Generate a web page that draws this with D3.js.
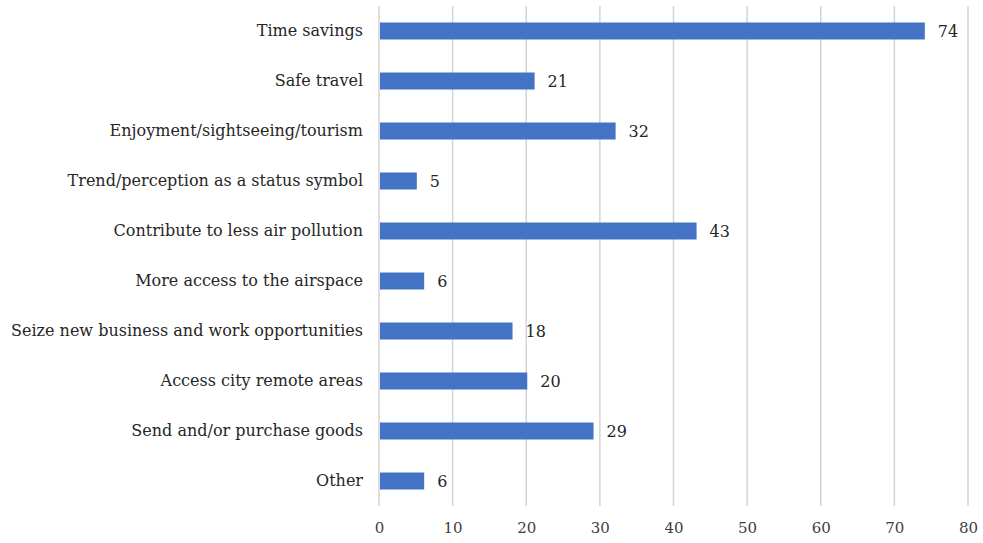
<!DOCTYPE html>
<html>
<head>
<meta charset="utf-8">
<script src="https://cdn.jsdelivr.net/npm/d3@7"></script>
<style>
  html, body { margin: 0; padding: 0; background: #fff; }
  svg { display: block; }
  text { font-family: "DejaVu Serif", "Liberation Serif", serif; }
</style>
</head>
<body>
<svg id="chart" width="983" height="543"></svg>
<script>
// Motivations for using air mobility, number of respondents
const categories = [
  "Time savings",
  "Safe travel",
  "Enjoyment/sightseeing/tourism",
  "Trend/perception as a status symbol",
  "Contribute to less air pollution",
  "More access to the airspace",
  "Seize new business and work opportunities",
  "Access city remote areas",
  "Send and/or purchase goods",
  "Other"
];
const values = [74, 21, 32, 5, 43, 6, 18, 20, 29, 6];
const tickValues = [0, 10, 20, 30, 40, 50, 60, 70, 80];

const svg = d3.select("#chart");
const margin = { top: 6, right: 15, bottom: 37, left: 379 };
const width = 983 - margin.left - margin.right;
const height = 543 - margin.top - margin.bottom;
const serif = "'DejaVu Serif', 'Liberation Serif', serif";

const x = d3.scaleLinear().domain([0, 80]).range([0, 589]);
const y = d3.scaleBand().domain(categories).range([0, height]).paddingInner(0.66).paddingOuter(0.33);

const g = svg.append("g").attr("transform", `translate(${margin.left},${margin.top})`);

// vertical gridlines
g.append("g")
  .selectAll("line")
  .data(tickValues)
  .join("line")
  .attr("x1", d => x(d)).attr("x2", d => x(d))
  .attr("y1", 0).attr("y2", height)
  .attr("stroke", "#d4d4d4")
  .attr("stroke-width", 1.5);

// bottom axis labels
const xAxis = d3.axisBottom(x).tickValues(tickValues).tickSize(0).tickPadding(16);
g.append("g")
  .attr("transform", `translate(0,${height})`)
  .call(xAxis)
  .call(a => a.select(".domain").remove())
  .call(a => a.selectAll("text")
    .attr("font-family", serif)
    .attr("font-size", 15)
    .attr("fill", "#404040"));

// category labels
const yAxis = d3.axisLeft(y).tickSize(0).tickPadding(16);
g.append("g")
  .call(yAxis)
  .call(a => a.select(".domain").remove())
  .call(a => a.selectAll("text")
    .attr("font-family", serif)
    .attr("font-size", 16)
    .attr("fill", "#262626"));

// bars
g.append("g")
  .selectAll("rect")
  .data(categories)
  .join("rect")
  .attr("x", x(0) + 1)
  .attr("y", d => y(d))
  .attr("width", (d, i) => x(values[i]) - x(0))
  .attr("height", y.bandwidth())
  .attr("fill", "#4472C4");

// value labels
g.append("g")
  .selectAll("text")
  .data(categories)
  .join("text")
  .attr("x", (d, i) => x(values[i]) + 14)
  .attr("y", d => y(d) + y.bandwidth() / 2)
  .attr("dy", "0.4em")
  .attr("font-family", serif)
  .attr("font-size", 16)
  .attr("fill", "#262626")
  .text((d, i) => values[i]);
</script>
</body>
</html>
